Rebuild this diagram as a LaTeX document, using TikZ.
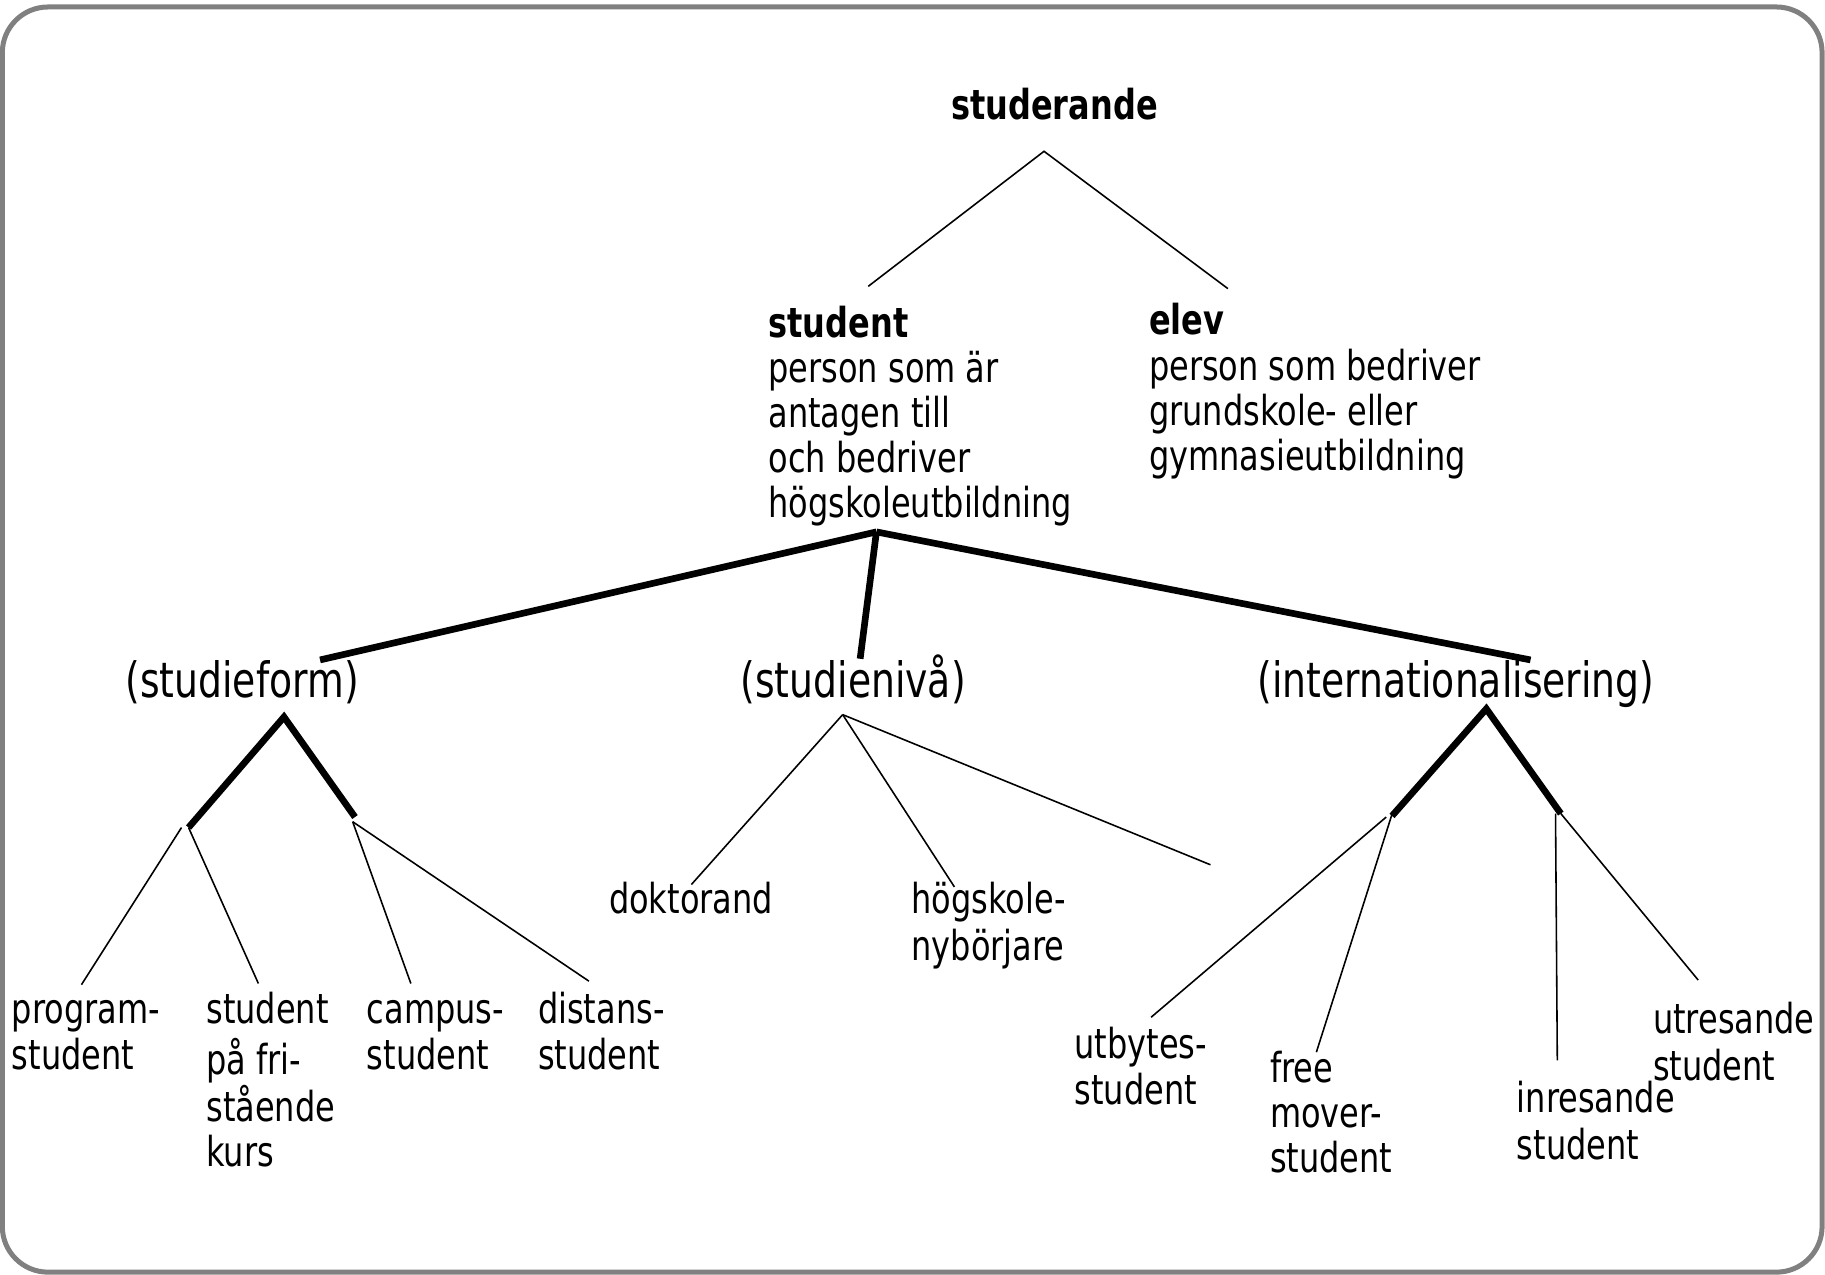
\documentclass[tikz,border=0pt]{standalone}
\usepackage{fontspec}
\setmainfont{DejaVu Sans}[FakeStretch=0.775]

\tikzset{
  txt/.style={font=\fontsize{23.5}{25.5}\selectfont, inner sep=0pt},
  block/.style={txt, anchor=north west, align=left},
  facet/.style={font=\fontsize{27.7}{30}\selectfont, inner sep=0pt, anchor=base},
  twig/.style={line width=0.9pt},
  branch/.style={line width=3.8pt}
}

\begin{document}
\begin{tikzpicture}[x=0.02328cm, y=-0.02328cm]

\useasboundingbox (0,0) rectangle (1568,1095);
\draw[gray, line width=2.85pt, rounded corners=26pt] (2,6) rectangle (1565.5,1093);

% top level
\node[txt, anchor=base] (studerande) at (906,103) {\textbf{studerande}};
\node[block] (student) at (660,263)
  {\strut\textbf{student}\\person som är\\antagen till\\och bedriver\\högskoleutbildning};
\node[block] (elev) at (987,260)
  {\strut\textbf{elev}\\person som bedriver\\grundskole- eller\\gymnasieutbildning};

% facets
\node[facet] (form) at (208,599) {(studieform)};
\node[facet] (niva) at (733,599) {(studienivå)};
\node[facet] (intl) at (1251,599) {(internationalisering)};

% leaves
\node[block] (program) at (10,852)   {\strut program-\\student};
\node[block] (fristaende) at (177,852) {\strut student\\på fri-\\stående\\kurs};
\node[block] (campus) at (315,852)   {\strut campus-\\student};
\node[block] (distans) at (462,852)  {\strut distans-\\student};
\node[txt, anchor=base west] (doktorand) at (523,785) {doktorand};
\node[block] (nyborjare) at (783,758) {\strut högskole-\\nybörjare};
\node[block] (utbytes) at (923,882)  {\strut utbytes-\\student};
\node[block] (freemover) at (1091,903) {\strut free\\mover-\\student};
\node[block] (inresande) at (1303,929) {\strut inresande\\student};
\node[block] (utresande) at (1420,861) {\strut utresande\\student};

% branch points
\coordinate (top)    at (897,130);
\coordinate (top-l)  at (746,246);
\coordinate (top-r)  at (1055,248);
\coordinate (hub)    at (753,457);
\coordinate (form-in) at (275,567);
\coordinate (niva-in) at (739,566);
\coordinate (intl-in) at (1315,567);
\coordinate (form-a) at (244,616);
\coordinate (form-l) at (162,711);
\coordinate (form-r) at (305,702);
\coordinate (niva-a) at (724,614);
\coordinate (niva-x) at (1040,743);
\coordinate (intl-a) at (1277,609);
\coordinate (intl-l) at (1196,701);
\coordinate (intl-r) at (1341,699);

\draw[twig] (top-l) -- (top) -- (top-r);

\draw[branch] (hub) -- (form-in);
\draw[branch] (hub) -- (niva-in);
\draw[branch] (hub) -- (intl-in);

\draw[branch] (form-l) -- (form-a) -- (form-r);
\draw[branch] (intl-l) -- (intl-a) -- (intl-r);

\draw[twig] ([xshift=-4]form-l) -- (70,846);
\draw[twig] (form-l) -- (222,845);
\draw[twig] ([shift={(-2,4)}]form-r) -- (353,845);
\draw[twig] ([shift={(-2,4)}]form-r) -- (506,843);

\draw[twig] (niva-a) -- (594,760);
\draw[twig] (niva-a) -- (820,762);
\draw[twig] (niva-a) -- (niva-x);

\draw[twig] ([shift={(-5,1)}]intl-l) -- (989,874);
\draw[twig] ([yshift=1]intl-l) -- (1131,904);
\draw[twig] ([xshift=-3]intl-r) -- (1338,911);
\draw[twig] (intl-r) -- (1459,842);

\end{tikzpicture}
\end{document}
